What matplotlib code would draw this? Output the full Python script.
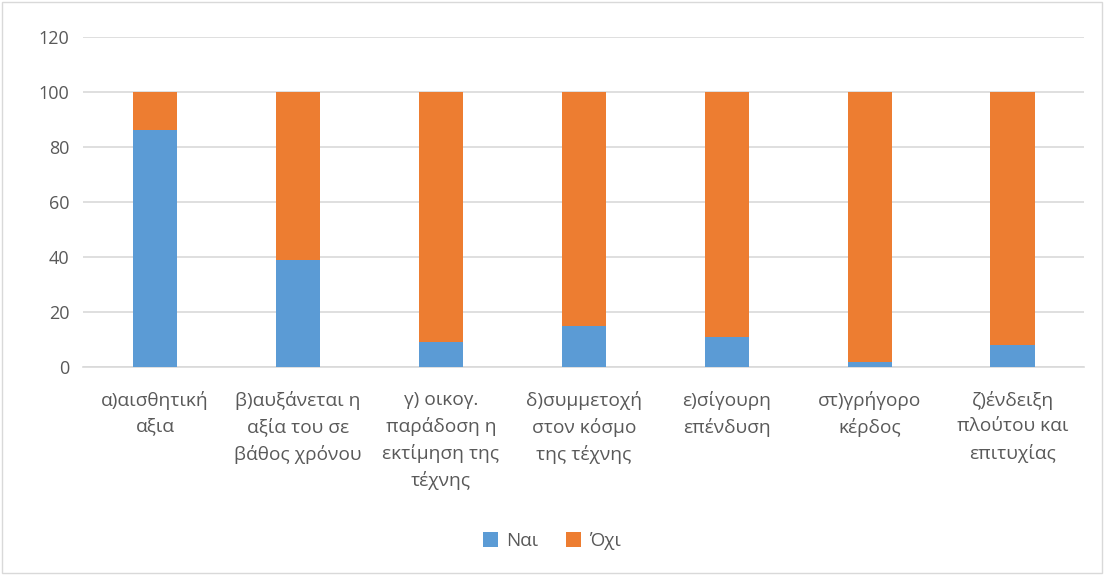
import matplotlib
matplotlib.use("Agg")
import matplotlib.pyplot as plt
from matplotlib.patches import Rectangle

categories = ["α)αισθητική\nαξια", "β)αυξάνεται η\nαξία του σε\nβάθος χρόνου",
              "γ) οικογ.\nπαράδοση η\nεκτίμηση της\nτέχνης", "δ)συμμετοχή\nστον κόσμο\nτης τέχνης",
              "ε)σίγουρη\nεπένδυση", "στ)γρήγορο\nκέρδος", "ζ)ένδειξη\nπλούτου και\nεπιτυχίας"]
nai = [86, 39, 9, 15, 11, 2, 8]
oxi = [14, 61, 91, 85, 89, 98, 92]
yticks = [0, 20, 40, 60, 80, 100, 120]

plt.rcParams['font.family'] = ['Open Sans', 'DejaVu Sans']
fig = plt.figure(figsize=(11.04, 5.75), dpi=100)
ax = fig.add_axes([0.0756, 0.3617, 0.9064, 0.574])
x = list(range(len(categories)))
w = 0.31
ax.bar(x, nai, width=w, color="#5B9BD5", label="Ναι", zorder=3)
ax.bar(x, oxi, bottom=nai, width=w, color="#ED7D31", label="Όχι", zorder=3)
ax.set_xlim(-0.5, len(categories) - 0.5)
ax.set_ylim(0, 120)
ax.set_yticks(yticks)
ax.yaxis.grid(True, color="#D9D9D9", linewidth=1.2, zorder=0)
for s in ["top", "right", "left"]:
    ax.spines[s].set_visible(False)
ax.spines["bottom"].set_color("#D9D9D9")
ax.spines["bottom"].set_linewidth(1.2)
ax.tick_params(axis="y", length=0, labelsize=13, colors="#595959", pad=10)
ax.tick_params(axis="x", length=0, labelsize=13.8, colors="#595959", pad=17)
ax.set_xticks(x)
ax.set_xticklabels(categories, linespacing=1.55, va="top")
leg = ax.legend(loc="center", bbox_to_anchor=(0.5, 1 - 541/575), bbox_transform=fig.transFigure,
                ncol=2, frameon=False, fontsize=13.5, handlelength=0.8, handleheight=0.8,
                columnspacing=1.5, handletextpad=0.4, labelcolor="#595959")
fig.patches.append(Rectangle((0.002, 0.003), 0.996, 0.994, transform=fig.transFigure,
                             fill=False, edgecolor="#D9D9D9", linewidth=1))
fig.savefig("out.png", dpi=100, facecolor="white")
